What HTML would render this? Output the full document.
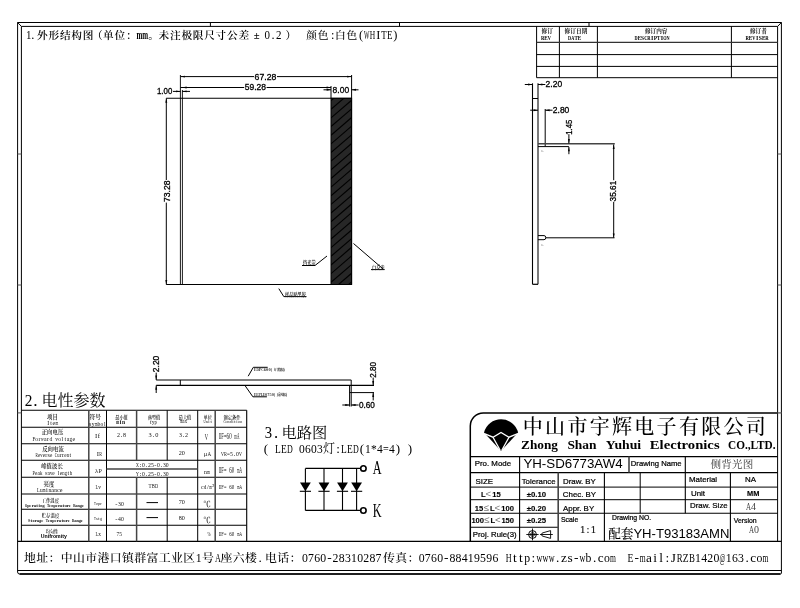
<!DOCTYPE html>
<html><head><meta charset="utf-8"><title>YH-SD6773AW4</title>
<style>html,body{margin:0;padding:0;background:#fff;}body{width:800px;height:608px;overflow:hidden;position:relative;font-family:"Liberation Sans",sans-serif;}</style></head>
<body>
<svg width="800" height="608" viewBox="0 0 800 608" style="display:block;position:absolute;left:0;top:0;will-change:transform" font-family="Liberation Sans, sans-serif"><title>YH-SD6773AW4 side backlight outline drawing</title>
<path d="M17.6,572.0 L17.6,22.5 L781.4,22.5 L781.4,573.0 Q781.4,574.0 780.4,574.0 L19.6,574.0 Q17.6,574.0 17.6,572.0 Z" fill="none" stroke="#000" stroke-width="1"/>
<line x1="19.6" y1="574" x2="780.4" y2="574" stroke="#000" stroke-width="1.5"/>
<line x1="21.4" y1="26.4" x2="777.6" y2="26.4" stroke="#000" stroke-width="1"/>
<line x1="21.4" y1="26.4" x2="21.4" y2="541.4" stroke="#000" stroke-width="1"/>
<line x1="777.6" y1="26.4" x2="777.6" y2="541.4" stroke="#000" stroke-width="1"/>
<line x1="17.6" y1="541.4" x2="781.4" y2="541.4" stroke="#000" stroke-width="1.2"/>
<line x1="17.6" y1="570.5" x2="781.4" y2="570.5" stroke="#000" stroke-width="1"/>
<line x1="17.6" y1="22.5" x2="21.4" y2="26.4" stroke="#000" stroke-width="1"/>
<line x1="781.4" y1="22.5" x2="777.6" y2="26.4" stroke="#000" stroke-width="1"/>
<line x1="210.4" y1="22.5" x2="210.4" y2="26.4" stroke="#000" stroke-width="1"/>
<line x1="399.5" y1="22.5" x2="399.5" y2="26.4" stroke="#000" stroke-width="1"/>
<line x1="589" y1="22.5" x2="589" y2="26.4" stroke="#000" stroke-width="1"/>
<line x1="17.6" y1="154" x2="21.4" y2="154" stroke="#555" stroke-width="1"/>
<line x1="777.6" y1="154" x2="781.4" y2="154" stroke="#555" stroke-width="1"/>
<line x1="17.6" y1="285" x2="21.4" y2="285" stroke="#555" stroke-width="1"/>
<line x1="777.6" y1="285" x2="781.4" y2="285" stroke="#555" stroke-width="1"/>
<line x1="17.6" y1="412.9" x2="21.4" y2="412.9" stroke="#555" stroke-width="1"/>
<line x1="777.6" y1="412.9" x2="781.4" y2="412.9" stroke="#555" stroke-width="1"/>
<g font-family="Liberation Serif" font-size="12.43" fill="#000"><text transform="translate(26.11,38.6) scale(0.881,1)">1</text></g>
<g font-family="Liberation Serif" font-size="12.43" fill="#000"><text x="31.3" y="38.6">.</text></g>
<text x="37.1 48.5 59.9 71.3 82.7 92 103 114.4 126.1" y="38.6" font-family="Liberation Serif, Noto Serif CJK SC, serif" font-weight="600" font-size="10.7" fill="#000">外形结构图（单位：</text>
<g font-family="Liberation Serif" font-size="12.43" fill="#000" font-weight="bold"><text transform="translate(136.51,38.6) scale(0.566,1)">m</text><text transform="translate(142.21,38.6) scale(0.566,1)">m</text></g>
<text x="148.3 158.6 170 181.4 192.8 204.2 215.6 227 238.4" y="38.6" font-family="Liberation Serif, Noto Serif CJK SC, serif" font-weight="600" font-size="10.7" fill="#000">。未注极限尺寸公差</text>
<text x="253.8" y="38.6" font-family="Liberation Serif, Noto Serif CJK SC, serif" font-weight="600" font-size="10.7" fill="#000">±</text>
<g font-family="Liberation Serif" font-size="12.43" fill="#000"><text transform="translate(264.51,38.6) scale(0.881,1)">0</text><text x="271.4" y="38.6">.</text><text transform="translate(275.91,38.6) scale(0.881,1)">2</text></g>
<text x="285.5" y="38.6" font-family="Liberation Serif, Noto Serif CJK SC, serif" font-weight="600" font-size="10.7" fill="#000">）</text>
<text x="306.3 317.7" y="38.6" font-family="Liberation Serif, Noto Serif CJK SC, serif" font-weight="500" font-size="10.7" fill="#000">颜色</text>
<g font-family="Liberation Serif" font-size="12.43" fill="#000"><text x="331.12" y="38.6">:</text></g>
<text x="335.1 346.5" y="38.6" font-family="Liberation Serif, Noto Serif CJK SC, serif" font-weight="500" font-size="10.7" fill="#000">白色</text>
<g font-family="Liberation Serif" font-size="12.43" fill="#000"><text x="359.08" y="38.6">(</text><text transform="translate(364.11,38.6) scale(0.467,1)">W</text><text transform="translate(369.81,38.6) scale(0.610,1)">H</text><text x="376.18" y="38.6">I</text><text transform="translate(381.21,38.6) scale(0.721,1)">T</text><text transform="translate(386.91,38.6) scale(0.721,1)">E</text><text x="393.28" y="38.6">)</text></g>
<line x1="536.6" y1="26.4" x2="536.6" y2="77.7" stroke="#000" stroke-width="1"/>
<line x1="559.4" y1="26.4" x2="559.4" y2="77.7" stroke="#000" stroke-width="1"/>
<line x1="597.4" y1="26.4" x2="597.4" y2="77.7" stroke="#000" stroke-width="1"/>
<line x1="731.4" y1="26.4" x2="731.4" y2="77.7" stroke="#000" stroke-width="1"/>
<line x1="536.6" y1="42.4" x2="777.6" y2="42.4" stroke="#333" stroke-width="1.4"/>
<line x1="536.6" y1="54.6" x2="777.6" y2="54.6" stroke="#000" stroke-width="1"/>
<line x1="536.6" y1="66.4" x2="777.6" y2="66.4" stroke="#000" stroke-width="1"/>
<line x1="536.6" y1="77.7" x2="777.6" y2="77.7" stroke="#000" stroke-width="1"/>
<text x="541.6 547.2" y="32.9" font-family="Liberation Serif, Noto Serif CJK SC, serif" font-weight="bold" font-size="5.6" fill="#111">修订</text>
<g font-family="Liberation Serif" font-size="6.1" fill="#000" font-weight="bold"><text transform="translate(541.07,39.9) scale(0.778,1)">R</text><text transform="translate(544.37,39.9) scale(0.850,1)">E</text><text transform="translate(547.67,39.9) scale(0.719,1)">V</text></g>
<text x="564.6 570.35 576.1 581.85" y="32.9" font-family="Liberation Serif, Noto Serif CJK SC, serif" font-weight="bold" font-size="5.6" fill="#111">修订日期</text>
<g font-family="Liberation Serif" font-size="6.1" fill="#000" font-weight="bold"><text transform="translate(568.06,39.9) scale(0.697,1)">D</text><text transform="translate(571.26,39.9) scale(0.697,1)">A</text><text transform="translate(574.46,39.9) scale(0.824,1)">T</text><text transform="translate(577.66,39.9) scale(0.824,1)">E</text></g>
<text x="645 650.6 656.2 661.8" y="32.9" font-family="Liberation Serif, Noto Serif CJK SC, serif" font-weight="bold" font-size="5.6" fill="#111">修订内容</text>
<g font-family="Liberation Serif" font-size="6.1" fill="#000" font-weight="bold"><text transform="translate(634.56,39.9) scale(0.697,1)">D</text><text transform="translate(637.76,39.9) scale(0.824,1)">E</text><text transform="translate(640.96,39.9) scale(0.905,1)">S</text><text transform="translate(644.16,39.9) scale(0.755,1)">C</text><text transform="translate(647.36,39.9) scale(0.755,1)">R</text><text x="651.08" y="39.9">I</text><text transform="translate(653.76,39.9) scale(0.905,1)">P</text><text transform="translate(656.96,39.9) scale(0.824,1)">T</text><text x="660.68" y="39.9">I</text><text transform="translate(663.36,39.9) scale(0.697,1)">O</text><text transform="translate(666.56,39.9) scale(0.697,1)">N</text></g>
<text x="750 755.6 761.2" y="32.9" font-family="Liberation Serif, Noto Serif CJK SC, serif" font-weight="bold" font-size="5.6" fill="#111">修订者</text>
<g font-family="Liberation Serif" font-size="6.1" fill="#000" font-weight="bold"><text transform="translate(745.57,39.9) scale(0.778,1)">R</text><text transform="translate(748.87,39.9) scale(0.850,1)">E</text><text transform="translate(752.17,39.9) scale(0.719,1)">V</text><text x="756.03" y="39.9">I</text><text transform="translate(758.77,39.9) scale(0.933,1)">S</text><text transform="translate(762.07,39.9) scale(0.850,1)">E</text><text transform="translate(765.37,39.9) scale(0.778,1)">R</text></g>
<defs><clipPath id="hc"><rect x="331" y="98.3" width="20.6" height="186.2"/></clipPath></defs>
<rect x="331" y="98.3" width="20.6" height="186.2" fill="#272727" stroke="none" stroke-width="1"/>
<g clip-path="url(#hc)" stroke="#000" stroke-width="1.1"><line x1="331.0" y1="92" x2="351.6" y2="74.28"/><line x1="331.0" y1="100.65" x2="351.6" y2="82.93"/><line x1="331.0" y1="109.3" x2="351.6" y2="91.58"/><line x1="331.0" y1="117.95" x2="351.6" y2="100.23"/><line x1="331.0" y1="126.6" x2="351.6" y2="108.88"/><line x1="331.0" y1="135.25" x2="351.6" y2="117.53"/><line x1="331.0" y1="143.9" x2="351.6" y2="126.18"/><line x1="331.0" y1="152.55" x2="351.6" y2="134.83"/><line x1="331.0" y1="161.2" x2="351.6" y2="143.48"/><line x1="331.0" y1="169.85" x2="351.6" y2="152.13"/><line x1="331.0" y1="178.5" x2="351.6" y2="160.78"/><line x1="331.0" y1="187.15" x2="351.6" y2="169.43"/><line x1="331.0" y1="195.8" x2="351.6" y2="178.08"/><line x1="331.0" y1="204.45" x2="351.6" y2="186.73"/><line x1="331.0" y1="213.1" x2="351.6" y2="195.38"/><line x1="331.0" y1="221.75" x2="351.6" y2="204.03"/><line x1="331.0" y1="230.4" x2="351.6" y2="212.68"/><line x1="331.0" y1="239.05" x2="351.6" y2="221.33"/><line x1="331.0" y1="247.7" x2="351.6" y2="229.98"/><line x1="331.0" y1="256.35" x2="351.6" y2="238.63"/><line x1="331.0" y1="265" x2="351.6" y2="247.28"/><line x1="331.0" y1="273.65" x2="351.6" y2="255.93"/><line x1="331.0" y1="282.3" x2="351.6" y2="264.58"/><line x1="331.0" y1="290.95" x2="351.6" y2="273.23"/><line x1="331.0" y1="299.6" x2="351.6" y2="281.88"/><line x1="331.0" y1="308.25" x2="351.6" y2="290.53"/></g>
<rect x="331" y="98.3" width="20.6" height="186.2" fill="none" stroke="#000" stroke-width="1"/>
<line x1="166.2" y1="98.3" x2="351.6" y2="98.3" stroke="#000" stroke-width="1.1"/>
<line x1="166.2" y1="284.5" x2="351.6" y2="284.5" stroke="#000" stroke-width="1.1"/>
<line x1="180.4" y1="75" x2="180.4" y2="284.5" stroke="#000" stroke-width="0.9"/>
<line x1="182.4" y1="90" x2="182.4" y2="284.5" stroke="#000" stroke-width="0.9"/>
<line x1="351.6" y1="75" x2="351.6" y2="284.5" stroke="#000" stroke-width="1"/>
<line x1="331" y1="86" x2="331" y2="98.3" stroke="#000" stroke-width="1"/>
<line x1="180.5" y1="76.6" x2="254" y2="76.6" stroke="#000" stroke-width="1"/>
<line x1="277" y1="76.6" x2="351.6" y2="76.6" stroke="#000" stroke-width="1"/>
<polygon points="180.5,76.6 184.9,75.65 184.9,77.55" fill="#000"/>
<polygon points="351.6,76.6 347.2,77.55 347.2,75.65" fill="#000"/>
<text x="0" y="0" transform="translate(254.6,79.7) scale(1.0400,1)" font-family="Liberation Sans" font-size="8.35" fill="#000" stroke="#000" stroke-width="0.3" xml:space="preserve">67.28</text>
<line x1="180.5" y1="87.5" x2="244.2" y2="87.5" stroke="#000" stroke-width="1"/>
<line x1="266.6" y1="87.5" x2="331" y2="87.5" stroke="#000" stroke-width="1"/>
<polygon points="182.2,87.5 186.6,86.55 186.6,88.45" fill="#000"/>
<polygon points="331,87.5 326.6,88.45 326.6,86.55" fill="#000"/>
<text x="0" y="0" transform="translate(244.7,89.9) scale(1.0200,1)" font-family="Liberation Sans" font-size="8.35" fill="#000" stroke="#000" stroke-width="0.3" xml:space="preserve">59.28</text>
<line x1="173" y1="91.4" x2="180.5" y2="91.4" stroke="#000" stroke-width="1"/>
<polygon points="180.5,91.4 176.1,92.35 176.1,90.45" fill="#000"/>
<line x1="182.2" y1="91.4" x2="190" y2="91.4" stroke="#000" stroke-width="1"/>
<polygon points="182.2,91.4 186.6,90.45 186.6,92.35" fill="#000"/>
<text x="0" y="0" transform="translate(157,94.2) scale(0.9400,1)" font-family="Liberation Sans" font-size="8.35" fill="#000" stroke="#000" stroke-width="0.3" xml:space="preserve">1.00</text>
<line x1="323.5" y1="89.8" x2="331" y2="89.8" stroke="#000" stroke-width="1"/>
<polygon points="331,89.8 326.6,90.75 326.6,88.85" fill="#000"/>
<line x1="351.6" y1="89.8" x2="358.5" y2="89.8" stroke="#000" stroke-width="1"/>
<polygon points="351.6,89.8 356,88.85 356,90.75" fill="#000"/>
<text x="0" y="0" transform="translate(332.6,92.7) scale(1.0200,1)" font-family="Liberation Sans" font-size="8.35" fill="#000" stroke="#000" stroke-width="0.3" xml:space="preserve">8.00</text>
<line x1="166.3" y1="98.3" x2="166.3" y2="180" stroke="#000" stroke-width="1"/>
<line x1="166.3" y1="202.6" x2="166.3" y2="284.5" stroke="#000" stroke-width="1"/>
<polygon points="166.3,98.3 167.25,102.7 165.35,102.7" fill="#000"/>
<polygon points="166.3,284.5 165.35,280.1 167.25,280.1" fill="#000"/>
<text x="0" y="0" transform="translate(170,202) rotate(-90) scale(1.0300,1)" font-family="Liberation Sans" font-size="8.35" fill="#000" stroke="#000" stroke-width="0.3" xml:space="preserve">73.28</text>
<polyline points="327,256 315,265.5 302,265.5" fill="none" stroke="#000" stroke-width="1"/>
<text x="303 307.2 311.4" y="264.2" font-family="Liberation Serif, Noto Serif CJK SC, serif" font-weight="bold" font-size="4.2" fill="#222">挡光带</text>
<polyline points="353.5,243.5 383.5,269.3" fill="none" stroke="#000" stroke-width="1"/>
<line x1="371" y1="269.6" x2="384.5" y2="269.6" stroke="#000" stroke-width="1"/>
<text x="372 376.2 380.4" y="268.6" font-family="Liberation Serif, Noto Serif CJK SC, serif" font-weight="bold" font-size="4.2" fill="#222">白反光</text>
<polyline points="278.8,288.6 283.8,296.6 306.5,296.6" fill="none" stroke="#000" stroke-width="1"/>
<text x="285 289.2 293.4 297.6 301.8" y="295.8" font-family="Liberation Serif, Noto Serif CJK SC, serif" font-weight="bold" font-size="4.2" fill="#222">样品贴黑胶</text>
<line x1="532.5" y1="83.3" x2="532.5" y2="284.3" stroke="#000" stroke-width="1.1"/>
<line x1="538" y1="83.3" x2="538" y2="284.3" stroke="#333" stroke-width="1.3"/>
<line x1="532.5" y1="98.5" x2="538" y2="98.5" stroke="#000" stroke-width="1"/>
<line x1="532.5" y1="284.3" x2="538" y2="284.3" stroke="#000" stroke-width="1.2"/>
<line x1="524.8" y1="84.5" x2="532.5" y2="84.5" stroke="#000" stroke-width="1"/>
<polygon points="532.5,84.5 528.1,85.45 528.1,83.55" fill="#000"/>
<line x1="538" y1="84.5" x2="545.3" y2="84.5" stroke="#000" stroke-width="1"/>
<polygon points="538,84.5 542.4,83.55 542.4,85.45" fill="#000"/>
<text x="0" y="0" transform="translate(545.6,87.3) scale(1.0200,1)" font-family="Liberation Sans" font-size="8.35" fill="#000" stroke="#000" stroke-width="0.3" xml:space="preserve">2.20</text>
<line x1="530.2" y1="110.2" x2="538" y2="110.2" stroke="#000" stroke-width="1"/>
<polygon points="538,110.2 533.6,111.15 533.6,109.25" fill="#000"/>
<line x1="545.2" y1="109" x2="545.2" y2="146.4" stroke="#000" stroke-width="1"/>
<line x1="545.2" y1="110.2" x2="552.5" y2="110.2" stroke="#000" stroke-width="1"/>
<polygon points="545.2,110.2 549.6,109.25 549.6,111.15" fill="#000"/>
<text x="0" y="0" transform="translate(552.8,113) scale(1.0200,1)" font-family="Liberation Sans" font-size="8.35" fill="#000" stroke="#000" stroke-width="0.3" xml:space="preserve">2.80</text>
<line x1="538" y1="143.8" x2="614.8" y2="143.8" stroke="#444" stroke-width="1.5"/>
<line x1="538" y1="146.6" x2="568.9" y2="146.6" stroke="#000" stroke-width="1"/>
<line x1="568.9" y1="134.2" x2="568.9" y2="143.4" stroke="#000" stroke-width="1"/>
<polygon points="568.9,143.4 567.95,139 569.85,139" fill="#000"/>
<line x1="568.9" y1="154.2" x2="568.9" y2="146.9" stroke="#000" stroke-width="1"/>
<polygon points="568.9,146.9 569.85,151.3 567.95,151.3" fill="#000"/>
<text x="0" y="0" transform="translate(571.7,134.8) rotate(-90) scale(0.9300,1)" font-family="Liberation Sans" font-size="8.35" fill="#000" stroke="#000" stroke-width="0.3" xml:space="preserve">1.45</text>
<line x1="613.7" y1="144.5" x2="613.7" y2="180.2" stroke="#000" stroke-width="1"/>
<line x1="613.7" y1="201.8" x2="613.7" y2="237.8" stroke="#000" stroke-width="1"/>
<polygon points="613.7,144.5 614.65,148.9 612.75,148.9" fill="#000"/>
<polygon points="613.7,237.8 612.75,233.4 614.65,233.4" fill="#000"/>
<text x="0" y="0" transform="translate(616.1,201.4) rotate(-90) scale(0.9900,1)" font-family="Liberation Sans" font-size="8.35" fill="#000" stroke="#000" stroke-width="0.3" xml:space="preserve">35.61</text>
<path d="M538,235.6 L544,235.6 Q545.8,235.6 545.8,237.6 Q545.8,239.7 544,239.7 L538,239.7" fill="none" stroke="#000" stroke-width="1"/>
<line x1="545.6" y1="237.8" x2="614.5" y2="237.8" stroke="#000" stroke-width="1"/>
<text x="541" y="152" font-family="Liberation Sans" font-size="3.2" fill="#888" xml:space="preserve">x-</text>
<text x="541" y="245.5" font-family="Liberation Sans" font-size="3.2" fill="#888" xml:space="preserve">x-</text>
<line x1="156.2" y1="380" x2="351.2" y2="380" stroke="#555" stroke-width="1.5"/>
<line x1="156.2" y1="385.4" x2="374" y2="385.4" stroke="#000" stroke-width="1.1"/>
<line x1="180.3" y1="380" x2="180.3" y2="385.4" stroke="#000" stroke-width="1"/>
<line x1="156.2" y1="372.7" x2="156.2" y2="380" stroke="#000" stroke-width="1"/>
<polygon points="156.2,380 155.25,375.6 157.15,375.6" fill="#000"/>
<line x1="156.2" y1="393" x2="156.2" y2="385.4" stroke="#000" stroke-width="1"/>
<polygon points="156.2,385.4 157.15,389.8 155.25,389.8" fill="#000"/>
<text x="0" y="0" transform="translate(159.3,372.2) rotate(-90) scale(1.0200,1)" font-family="Liberation Sans" font-size="8.35" fill="#000" stroke="#000" stroke-width="0.3" xml:space="preserve">2.20</text>
<line x1="349.6" y1="385.4" x2="349.6" y2="406.5" stroke="#000" stroke-width="1"/>
<line x1="351.2" y1="380" x2="351.2" y2="406.5" stroke="#000" stroke-width="1"/>
<line x1="349.6" y1="392.6" x2="374" y2="392.6" stroke="#000" stroke-width="1"/>
<line x1="373.2" y1="377.6" x2="373.2" y2="385.4" stroke="#000" stroke-width="1"/>
<polygon points="373.2,385.4 372.25,381 374.15,381" fill="#000"/>
<line x1="373.2" y1="400.4" x2="373.2" y2="392.6" stroke="#000" stroke-width="1"/>
<polygon points="373.2,392.6 374.15,397 372.25,397" fill="#000"/>
<text x="0" y="0" transform="translate(376.2,377.8) rotate(-90) scale(0.9700,1)" font-family="Liberation Sans" font-size="8.35" fill="#000" stroke="#000" stroke-width="0.3" xml:space="preserve">2.80</text>
<line x1="342.3" y1="405" x2="349.6" y2="405" stroke="#000" stroke-width="1"/>
<polygon points="349.6,405 345.2,405.95 345.2,404.05" fill="#000"/>
<line x1="351.2" y1="405" x2="358.6" y2="405" stroke="#000" stroke-width="1"/>
<polygon points="351.2,405 355.6,404.05 355.6,405.95" fill="#000"/>
<text x="0" y="0" transform="translate(358.9,407.9) scale(0.9800,1)" font-family="Liberation Sans" font-size="8.35" fill="#000" stroke="#000" stroke-width="0.3" xml:space="preserve">0.60</text>
<polyline points="248.2,376.2 253.3,367.3 267.7,367.3" fill="none" stroke="#000" stroke-width="1"/>
<g font-family="Liberation Serif" font-size="4.36" fill="#333" font-weight="bold"><text transform="translate(254.05,371.3) scale(0.865,1)">E</text><text transform="translate(256.45,371.3) scale(0.732,1)">D</text><text transform="translate(258.85,371.3) scale(0.950,1)">P</text><text transform="translate(261.25,371.3) scale(0.792,1)">C</text><text x="263.71" y="371.3">6</text><text x="266.11" y="371.3">0</text><text x="268.51" y="371.3">0</text></g>
<text x="270.8 274 277.2 280.4 283.6" y="371.3" font-family="Liberation Serif, Noto Serif CJK SC, serif" font-weight="bold" font-size="3.8" fill="#333">(扩散膜)</text>
<polyline points="245.3,386 252.9,396.8 266.9,396.8" fill="none" stroke="#000" stroke-width="1"/>
<g font-family="Liberation Serif" font-size="4.36" fill="#333" font-weight="bold"><text transform="translate(254.04,396.2) scale(0.793,1)">E</text><text transform="translate(256.24,396.2) scale(0.793,1)">E</text><text transform="translate(258.44,396.2) scale(0.871,1)">P</text><text transform="translate(260.64,396.2) scale(0.793,1)">L</text><text transform="translate(262.84,396.2) scale(0.793,1)">E</text><text transform="translate(265.04,396.2) scale(0.969,1)">0</text><text transform="translate(267.24,396.2) scale(0.969,1)">7</text><text transform="translate(269.44,396.2) scale(0.969,1)">5</text><text transform="translate(271.64,396.2) scale(0.969,1)">0</text></g>
<text x="273.8 276.8 279.8 282.8 285.8" y="396.2" font-family="Liberation Serif, Noto Serif CJK SC, serif" font-weight="bold" font-size="3.8" fill="#333">(反光膜)</text>
<g font-family="Liberation Serif" font-size="17.44" fill="#000"><text transform="translate(24.76,406.2) scale(0.881,1)">2</text></g>
<g font-family="Liberation Serif" font-size="17.44" fill="#000"><text x="33.22" y="406.2">.</text></g>
<text x="41.4 57.4 73.4 89.4" y="406.4" font-family="Liberation Serif, Noto Serif CJK SC, serif" font-size="16" fill="#000">电性参数</text>
<line x1="21.4" y1="410.3" x2="246.7" y2="410.3" stroke="#000" stroke-width="1.1"/>
<line x1="21.4" y1="427.3" x2="246.7" y2="427.3" stroke="#000" stroke-width="1.1"/>
<line x1="21.4" y1="443.7" x2="246.7" y2="443.7" stroke="#000" stroke-width="1.1"/>
<line x1="21.4" y1="460.2" x2="246.7" y2="460.2" stroke="#000" stroke-width="1.1"/>
<line x1="21.4" y1="477.2" x2="246.7" y2="477.2" stroke="#000" stroke-width="1.1"/>
<line x1="21.4" y1="494" x2="246.7" y2="494" stroke="#000" stroke-width="1.1"/>
<line x1="21.4" y1="509.3" x2="246.7" y2="509.3" stroke="#000" stroke-width="1.1"/>
<line x1="21.4" y1="525.2" x2="246.7" y2="525.2" stroke="#000" stroke-width="1.1"/>
<line x1="246.7" y1="410.3" x2="246.7" y2="541.4" stroke="#000" stroke-width="1.1"/>
<line x1="88.8" y1="410.3" x2="88.8" y2="541.4" stroke="#444" stroke-width="1.5"/>
<line x1="106.5" y1="410.3" x2="106.5" y2="541.4" stroke="#000" stroke-width="1"/>
<line x1="215.2" y1="410.3" x2="215.2" y2="541.4" stroke="#444" stroke-width="1.5"/>
<line x1="197.7" y1="410.3" x2="197.7" y2="541.4" stroke="#000" stroke-width="1"/>
<line x1="136.6" y1="410.3" x2="136.6" y2="460.2" stroke="#444" stroke-width="1.5"/>
<line x1="136.6" y1="477.2" x2="136.6" y2="541.4" stroke="#444" stroke-width="1.5"/>
<line x1="167.2" y1="410.3" x2="167.2" y2="460.2" stroke="#000" stroke-width="1"/>
<line x1="167.2" y1="477.2" x2="167.2" y2="541.4" stroke="#000" stroke-width="1"/>
<line x1="106.5" y1="469" x2="197.7" y2="469" stroke="#444" stroke-width="1.5"/>
<text x="47.1 52.5" y="418.8" font-family="Liberation Serif, Noto Serif CJK SC, serif" font-weight="600" font-size="5.4" fill="#111">项目</text>
<g font-family="Liberation Serif" font-size="5.89" fill="#111"><text x="47.24" y="424.8">I</text><text x="50.26" y="424.8">t</text><text x="52.62" y="424.8">e</text><text transform="translate(55.41,424.8) scale(0.598,1)">m</text></g>
<text x="89.5 95.3" y="419.4" font-family="Liberation Serif, Noto Serif CJK SC, serif" font-weight="600" font-size="5.8" fill="#111">符号</text>
<g font-family="Liberation Serif" font-size="5.89" fill="#111"><text x="89.1" y="425.6">s</text><text transform="translate(91.76,425.6) scale(0.946,1)">y</text><text transform="translate(94.66,425.6) scale(0.608,1)">m</text><text transform="translate(97.56,425.6) scale(0.946,1)">b</text><text transform="translate(100.46,425.6) scale(0.946,1)">o</text><text x="103.93" y="425.6">l</text></g>
<text x="115.2 119.4 123.6" y="419" font-family="Liberation Serif, Noto Serif CJK SC, serif" font-weight="600" font-size="4.2" fill="#111">最小值</text>
<g font-family="Liberation Serif" font-size="5.89" fill="#111" font-weight="bold"><text transform="translate(116.21,424) scale(0.608,1)">m</text><text x="119.68" y="424">i</text><text transform="translate(122.01,424) scale(0.946,1)">n</text></g>
<text x="147.7 151.9 156.1" y="419" font-family="Liberation Serif, Noto Serif CJK SC, serif" font-weight="600" font-size="4.2" fill="#111">典型值</text>
<g font-family="Liberation Serif" font-size="5.89" fill="#111"><text x="149.98" y="423.6">t</text><text transform="translate(152.1,423.6) scale(0.815,1)">y</text><text transform="translate(154.6,423.6) scale(0.815,1)">p</text></g>
<text x="178.7 182.9 187.1" y="419" font-family="Liberation Serif, Noto Serif CJK SC, serif" font-weight="600" font-size="4.2" fill="#111">最大值</text>
<g font-family="Liberation Serif" font-size="5.89" fill="#111"><text transform="translate(179.95,423.4) scale(0.503,1)">m</text><text transform="translate(182.35,423.4) scale(0.882,1)">a</text><text transform="translate(184.75,423.4) scale(0.783,1)">x</text></g>
<text x="203.6 207.8" y="418.6" font-family="Liberation Serif, Noto Serif CJK SC, serif" font-weight="600" font-size="4.2" fill="#111">单位</text>
<g font-family="Liberation Serif" font-size="4.8" fill="#111"><text transform="translate(203.44,422.8) scale(0.610,1)">U</text><text transform="translate(205.64,422.8) scale(0.881,1)">n</text><text x="208.23" y="422.8">i</text><text x="210.43" y="422.8">t</text></g>
<text x="223.6 227.8 232 236.2" y="418.6" font-family="Liberation Serif, Noto Serif CJK SC, serif" font-weight="600" font-size="4.2" fill="#111">测定条件</text>
<g font-family="Liberation Serif" font-size="4.8" fill="#111"><text transform="translate(223.39,422.8) scale(0.630,1)">C</text><text transform="translate(225.49,422.8) scale(0.841,1)">o</text><text transform="translate(227.59,422.8) scale(0.841,1)">n</text><text transform="translate(229.69,422.8) scale(0.841,1)">d</text><text x="232.13" y="422.8">i</text><text x="234.23" y="422.8">t</text><text x="236.33" y="422.8">i</text><text transform="translate(238.09,422.8) scale(0.841,1)">o</text><text transform="translate(240.19,422.8) scale(0.841,1)">n</text></g>
<text x="41.7 47.1 52.5 57.9" y="434.2" font-family="Liberation Serif, Noto Serif CJK SC, serif" font-weight="600" font-size="5.4" fill="#111">正向电压</text>
<g font-family="Liberation Serif" font-size="5.89" fill="#111"><text transform="translate(32.48,441) scale(0.836,1)">F</text><text transform="translate(35.33,441) scale(0.930,1)">o</text><text x="38.57" y="441">r</text><text transform="translate(41.03,441) scale(0.644,1)">w</text><text x="43.94" y="441">a</text><text x="47.12" y="441">r</text><text transform="translate(49.58,441) scale(0.930,1)">d</text><text transform="translate(55.28,441) scale(0.930,1)">v</text><text transform="translate(58.13,441) scale(0.930,1)">o</text><text x="61.53" y="441">l</text><text x="64.38" y="441">t</text><text x="66.74" y="441">a</text><text transform="translate(69.53,441) scale(0.930,1)">g</text><text x="72.44" y="441">e</text></g>
<g font-family="Liberation Serif" font-size="6.76" fill="#111"><text x="94.97" y="438.4">I</text><text x="97.77" y="438.4">f</text></g>
<g font-family="Liberation Serif" font-size="6.76" fill="#111"><text transform="translate(116.91,437) scale(0.881,1)">2</text><text x="120.66" y="437">.</text><text transform="translate(123.11,437) scale(0.881,1)">8</text></g>
<g font-family="Liberation Serif" font-size="6.76" fill="#111"><text transform="translate(148.62,437.3) scale(0.938,1)">3</text><text x="152.66" y="437.3">.</text><text transform="translate(155.22,437.3) scale(0.938,1)">0</text></g>
<g font-family="Liberation Serif" font-size="6.76" fill="#111"><text transform="translate(178.91,437.3) scale(0.881,1)">3</text><text x="182.66" y="437.3">.</text><text transform="translate(185.11,437.3) scale(0.881,1)">2</text></g>
<g font-family="Liberation Serif" font-size="7.19" fill="#111"><text transform="translate(204.67,439.8) scale(0.628,1)">V</text></g>
<g font-family="Liberation Serif" font-size="7.19" fill="#111"><text x="218.8" y="438.9">I</text><text transform="translate(221.35,438.9) scale(0.624,1)">F</text><text transform="translate(223.95,438.9) scale(0.615,1)">=</text><text transform="translate(226.55,438.9) scale(0.694,1)">6</text><text transform="translate(229.15,438.9) scale(0.694,1)">0</text><text transform="translate(234.35,438.9) scale(0.446,1)">m</text><text transform="translate(236.95,438.9) scale(0.480,1)">A</text></g>
<text x="42.2 47.6 53 58.4" y="451" font-family="Liberation Serif, Noto Serif CJK SC, serif" font-weight="600" font-size="5.4" fill="#111">反向电流</text>
<g font-family="Liberation Serif" font-size="5.89" fill="#111"><text transform="translate(35.55,456.8) scale(0.587,1)">R</text><text transform="translate(37.95,456.8) scale(0.882,1)">e</text><text transform="translate(40.35,456.8) scale(0.783,1)">v</text><text transform="translate(42.75,456.8) scale(0.882,1)">e</text><text x="45.32" y="456.8">r</text><text x="47.55" y="456.8">s</text><text transform="translate(49.95,456.8) scale(0.882,1)">e</text><text transform="translate(54.75,456.8) scale(0.587,1)">C</text><text transform="translate(57.15,456.8) scale(0.783,1)">u</text><text x="59.72" y="456.8">r</text><text x="62.12" y="456.8">r</text><text transform="translate(64.35,456.8) scale(0.882,1)">e</text><text transform="translate(66.75,456.8) scale(0.783,1)">n</text><text x="69.48" y="456.8">t</text></g>
<g font-family="Liberation Serif" font-size="6.76" fill="#111"><text x="96.77" y="455.8">I</text><text transform="translate(99.36,455.8) scale(0.596,1)">R</text></g>
<g font-family="Liberation Serif" font-size="6.76" fill="#111"><text transform="translate(178.66,454.8) scale(0.909,1)">2</text><text transform="translate(181.86,454.8) scale(0.909,1)">0</text></g>
<g font-family="Liberation Serif" font-size="6.32" fill="#111"><text x="203.71" y="456.4">μ</text><text transform="translate(207.38,456.4) scale(0.799,1)">A</text></g>
<g font-family="Liberation Serif" font-size="6.98" fill="#111"><text transform="translate(221.06,455.8) scale(0.572,1)">V</text><text transform="translate(224.06,455.8) scale(0.619,1)">R</text><text transform="translate(227.06,455.8) scale(0.732,1)">=</text><text transform="translate(230.06,455.8) scale(0.826,1)">5</text><text x="233.63" y="455.8">.</text><text transform="translate(236.06,455.8) scale(0.826,1)">0</text><text transform="translate(239.06,455.8) scale(0.572,1)">V</text></g>
<text x="41.2 46.6 52 57.4" y="468.4" font-family="Liberation Serif, Noto Serif CJK SC, serif" font-weight="600" font-size="5.4" fill="#111">峰值波长</text>
<g font-family="Liberation Serif" font-size="5.89" fill="#111"><text transform="translate(32.59,474.6) scale(0.724,1)">P</text><text transform="translate(35.06,474.6) scale(0.908,1)">e</text><text transform="translate(37.53,474.6) scale(0.908,1)">a</text><text transform="translate(40,474.6) scale(0.806,1)">k</text><text transform="translate(44.94,474.6) scale(0.558,1)">w</text><text transform="translate(47.41,474.6) scale(0.908,1)">a</text><text transform="translate(49.88,474.6) scale(0.806,1)">v</text><text transform="translate(52.35,474.6) scale(0.908,1)">e</text><text x="57.66" y="474.6">l</text><text transform="translate(59.76,474.6) scale(0.908,1)">e</text><text transform="translate(62.23,474.6) scale(0.806,1)">n</text><text transform="translate(64.7,474.6) scale(0.806,1)">g</text><text x="67.54" y="474.6">t</text><text transform="translate(69.64,474.6) scale(0.806,1)">h</text></g>
<g font-family="Liberation Serif" font-size="6.76" fill="#111"><text x="95.11" y="472.6">λ</text><text transform="translate(98.57,472.6) scale(0.894,1)">P</text></g>
<g font-family="Liberation Serif" font-size="6.54" fill="#111"><text transform="translate(136.07,467.3) scale(0.606,1)">X</text><text x="139.57" y="467.3">:</text><text transform="translate(142.03,467.3) scale(0.875,1)">0</text><text x="145.62" y="467.3">.</text><text transform="translate(147.99,467.3) scale(0.875,1)">2</text><text transform="translate(150.97,467.3) scale(0.875,1)">5</text><text x="154.29" y="467.3">-</text><text transform="translate(156.93,467.3) scale(0.875,1)">0</text><text x="160.52" y="467.3">.</text><text transform="translate(162.89,467.3) scale(0.875,1)">3</text><text transform="translate(165.87,467.3) scale(0.875,1)">0</text></g>
<g font-family="Liberation Serif" font-size="6.54" fill="#111"><text transform="translate(136.07,475.8) scale(0.606,1)">Y</text><text x="139.57" y="475.8">:</text><text transform="translate(142.03,475.8) scale(0.875,1)">0</text><text x="145.62" y="475.8">.</text><text transform="translate(147.99,475.8) scale(0.875,1)">2</text><text transform="translate(150.97,475.8) scale(0.875,1)">5</text><text x="154.29" y="475.8">-</text><text transform="translate(156.93,475.8) scale(0.875,1)">0</text><text x="160.52" y="475.8">.</text><text transform="translate(162.89,475.8) scale(0.875,1)">3</text><text transform="translate(165.87,475.8) scale(0.875,1)">0</text></g>
<g font-family="Liberation Serif" font-size="6.1" fill="#111"><text transform="translate(204.06,473.6) scale(0.944,1)">n</text><text transform="translate(207.06,473.6) scale(0.607,1)">m</text></g>
<g font-family="Liberation Serif" font-size="7.52" fill="#111"><text transform="translate(218.75,472.6) scale(0.997,1)">I</text><text transform="translate(221.35,472.6) scale(0.597,1)">F</text><text transform="translate(223.95,472.6) scale(0.588,1)">=</text><text transform="translate(229.15,472.6) scale(0.664,1)">6</text><text transform="translate(231.75,472.6) scale(0.664,1)">0</text><text transform="translate(236.95,472.6) scale(0.427,1)">m</text><text transform="translate(239.55,472.6) scale(0.460,1)">A</text></g>
<text x="43.6 49" y="485.6" font-family="Liberation Serif, Noto Serif CJK SC, serif" font-weight="600" font-size="5.4" fill="#111">亮度</text>
<g font-family="Liberation Serif" font-size="6.54" fill="#111"><text transform="translate(37.03,491.8) scale(0.685,1)">L</text><text transform="translate(39.88,491.8) scale(0.837,1)">u</text><text transform="translate(42.73,491.8) scale(0.538,1)">m</text><text x="46.04" y="491.8">i</text><text transform="translate(48.43,491.8) scale(0.837,1)">n</text><text transform="translate(51.28,491.8) scale(0.943,1)">a</text><text transform="translate(54.13,491.8) scale(0.837,1)">n</text><text transform="translate(56.98,491.8) scale(0.943,1)">c</text><text transform="translate(59.83,491.8) scale(0.943,1)">e</text></g>
<g font-family="Liberation Serif" font-size="6.76" fill="#111"><text transform="translate(95.56,488.8) scale(0.651,1)">L</text><text transform="translate(98.36,488.8) scale(0.796,1)">v</text></g>
<g font-family="Liberation Serif" font-size="6.1" fill="#111"><text transform="translate(148.56,488.3) scale(0.824,1)">T</text><text transform="translate(151.76,488.3) scale(0.755,1)">B</text><text transform="translate(154.96,488.3) scale(0.697,1)">D</text></g>
<g font-family="Liberation Serif" font-size="6.32" fill="#111"><text transform="translate(201.1,489) scale(0.924,1)">c</text><text transform="translate(203.8,489) scale(0.820,1)">d</text><text x="206.92" y="489">/</text><text transform="translate(209.2,489) scale(0.527,1)">m</text><text x="212.25" y="489">²</text></g>
<g font-family="Liberation Serif" font-size="7.09" fill="#111"><text x="218.82" y="489.2">I</text><text transform="translate(221.35,489.2) scale(0.633,1)">F</text><text transform="translate(223.95,489.2) scale(0.625,1)">=</text><text transform="translate(229.15,489.2) scale(0.705,1)">6</text><text transform="translate(231.75,489.2) scale(0.705,1)">0</text><text transform="translate(236.95,489.2) scale(0.453,1)">m</text><text transform="translate(239.55,489.2) scale(0.488,1)">A</text></g>
<text x="41.5 45.9 50.3 54.7" y="501.8" font-family="Liberation Serif, Noto Serif CJK SC, serif" font-weight="600" font-size="4.4" fill="#111">工作温度</text>
<g font-family="Liberation Serif" font-size="5.01" fill="#111" font-weight="bold"><text transform="translate(24.98,507.2) scale(0.581,1)">O</text><text transform="translate(27.17,507.2) scale(0.839,1)">p</text><text transform="translate(29.36,507.2) scale(0.945,1)">e</text><text x="31.77" y="507.2">r</text><text transform="translate(33.74,507.2) scale(0.945,1)">a</text><text x="36.28" y="507.2">t</text><text x="38.47" y="507.2">i</text><text transform="translate(40.31,507.2) scale(0.839,1)">n</text><text transform="translate(42.5,507.2) scale(0.839,1)">g</text><text transform="translate(46.88,507.2) scale(0.686,1)">T</text><text transform="translate(49.07,507.2) scale(0.945,1)">e</text><text transform="translate(51.26,507.2) scale(0.539,1)">m</text><text transform="translate(53.45,507.2) scale(0.839,1)">p</text><text transform="translate(55.64,507.2) scale(0.945,1)">e</text><text x="58.05" y="507.2">r</text><text transform="translate(60.02,507.2) scale(0.945,1)">a</text><text x="62.56" y="507.2">t</text><text transform="translate(64.4,507.2) scale(0.839,1)">u</text><text x="66.81" y="507.2">r</text><text transform="translate(68.78,507.2) scale(0.945,1)">e</text><text transform="translate(73.16,507.2) scale(0.629,1)">R</text><text transform="translate(75.35,507.2) scale(0.945,1)">a</text><text transform="translate(77.54,507.2) scale(0.839,1)">n</text><text transform="translate(79.73,507.2) scale(0.839,1)">g</text><text transform="translate(81.92,507.2) scale(0.945,1)">e</text></g>
<g font-family="Liberation Serif" font-size="4.58" fill="#111"><text transform="translate(94.04,504.8) scale(0.687,1)">T</text><text transform="translate(96.04,504.8) scale(0.839,1)">o</text><text transform="translate(98.04,504.8) scale(0.839,1)">p</text><text x="100.24" y="504.8">r</text></g>
<g font-family="Liberation Serif" font-size="6.76" fill="#111"><text x="115.37" y="505.8">-</text><text transform="translate(118.06,505.8) scale(0.852,1)">3</text><text transform="translate(121.06,505.8) scale(0.852,1)">0</text></g>
<line x1="146.5" y1="502.6" x2="158" y2="502.6" stroke="#000" stroke-width="1"/>
<g font-family="Liberation Serif" font-size="6.54" fill="#111"><text transform="translate(178.66,504.4) scale(0.939,1)">7</text><text transform="translate(181.86,504.4) scale(0.939,1)">0</text></g>
<text x="203.2" y="507.4" font-family="Liberation Serif, Noto Serif CJK SC, serif" font-weight="500" font-size="7.6" fill="#000">℃</text>
<text x="41.7 46.1 50.5 54.9" y="516.8" font-family="Liberation Serif, Noto Serif CJK SC, serif" font-weight="600" font-size="4.4" fill="#111">贮存温度</text>
<g font-family="Liberation Serif" font-size="5.01" fill="#111" font-weight="bold"><text transform="translate(28.04,521.8) scale(0.757,1)">S</text><text x="30.6" y="521.8">t</text><text transform="translate(32.44,521.8) scale(0.842,1)">o</text><text x="34.87" y="521.8">r</text><text transform="translate(36.84,521.8) scale(0.949,1)">a</text><text transform="translate(39.04,521.8) scale(0.842,1)">g</text><text transform="translate(41.24,521.8) scale(0.949,1)">e</text><text transform="translate(45.64,521.8) scale(0.690,1)">T</text><text transform="translate(47.84,521.8) scale(0.949,1)">e</text><text transform="translate(50.04,521.8) scale(0.542,1)">m</text><text transform="translate(52.24,521.8) scale(0.842,1)">p</text><text transform="translate(54.44,521.8) scale(0.949,1)">e</text><text x="56.87" y="521.8">r</text><text transform="translate(58.84,521.8) scale(0.949,1)">a</text><text x="61.4" y="521.8">t</text><text transform="translate(63.24,521.8) scale(0.842,1)">u</text><text x="65.67" y="521.8">r</text><text transform="translate(67.64,521.8) scale(0.949,1)">e</text><text transform="translate(72.04,521.8) scale(0.632,1)">R</text><text transform="translate(74.24,521.8) scale(0.949,1)">a</text><text transform="translate(76.44,521.8) scale(0.842,1)">n</text><text transform="translate(78.64,521.8) scale(0.842,1)">g</text><text transform="translate(80.84,521.8) scale(0.949,1)">e</text></g>
<g font-family="Liberation Serif" font-size="4.58" fill="#111"><text transform="translate(94.04,519.9) scale(0.687,1)">T</text><text x="96.11" y="519.9">s</text><text x="98.36" y="519.9">t</text><text transform="translate(100.04,519.9) scale(0.839,1)">g</text></g>
<g font-family="Liberation Serif" font-size="6.76" fill="#111"><text x="115.37" y="521.2">-</text><text transform="translate(118.06,521.2) scale(0.852,1)">4</text><text transform="translate(121.06,521.2) scale(0.852,1)">0</text></g>
<line x1="146.5" y1="517.6" x2="158" y2="517.6" stroke="#000" stroke-width="1"/>
<g font-family="Liberation Serif" font-size="6.54" fill="#111"><text transform="translate(178.66,519.8) scale(0.939,1)">8</text><text transform="translate(181.86,519.8) scale(0.939,1)">0</text></g>
<text x="203.2" y="522.8" font-family="Liberation Serif, Noto Serif CJK SC, serif" font-weight="500" font-size="7.6" fill="#000">℃</text>
<text x="45.7 49.9 54.1" y="532.8" font-family="Liberation Serif, Noto Serif CJK SC, serif" font-weight="600" font-size="4.2" fill="#111">均匀性</text>
<text x="53.8" y="538.2" font-family="Liberation Sans" font-size="5.2" fill="#000" font-weight="bold" text-anchor="middle" xml:space="preserve">Unifromity</text>
<g font-family="Liberation Serif" font-size="6.76" fill="#111"><text transform="translate(95.56,535.8) scale(0.651,1)">L</text><text transform="translate(98.36,535.8) scale(0.796,1)">x</text></g>
<g font-family="Liberation Serif" font-size="6.76" fill="#111"><text transform="translate(116.56,535.8) scale(0.796,1)">7</text><text transform="translate(119.36,535.8) scale(0.796,1)">5</text></g>
<g font-family="Liberation Serif" font-size="5.67" fill="#111"><text transform="translate(207.17,536.4) scale(0.691,1)">%</text></g>
<g font-family="Liberation Serif" font-size="7.09" fill="#111"><text x="218.82" y="536.2">I</text><text transform="translate(221.35,536.2) scale(0.633,1)">F</text><text transform="translate(223.95,536.2) scale(0.625,1)">=</text><text transform="translate(229.15,536.2) scale(0.705,1)">6</text><text transform="translate(231.75,536.2) scale(0.705,1)">0</text><text transform="translate(236.95,536.2) scale(0.453,1)">m</text><text transform="translate(239.55,536.2) scale(0.488,1)">A</text></g>
<g font-family="Liberation Serif" font-size="16.68" fill="#000"><text transform="translate(264.75,438.2) scale(0.881,1)">3</text><text x="273.99" y="438.2">.</text></g>
<text x="281.5 296.8 312.1" y="438.4" font-family="Liberation Serif, Noto Serif CJK SC, serif" font-size="15.3" fill="#000">电路图</text>
<g font-family="Liberation Serif" font-size="13.08" fill="#000"><text x="263.82" y="453.2">(</text><text transform="translate(275.12,453.2) scale(0.721,1)">L</text><text transform="translate(281.12,453.2) scale(0.721,1)">E</text><text transform="translate(287.12,453.2) scale(0.610,1)">D</text><text transform="translate(299.12,453.2) scale(0.881,1)">0</text><text transform="translate(305.12,453.2) scale(0.881,1)">6</text><text transform="translate(311.12,453.2) scale(0.881,1)">0</text><text transform="translate(317.12,453.2) scale(0.881,1)">3</text></g>
<text x="323" y="453.2" font-family="Liberation Serif, Noto Serif CJK SC, serif" font-size="12" fill="#000">灯</text>
<g font-family="Liberation Serif" font-size="13.08" fill="#000"><text x="336.18" y="453.2">:</text><text transform="translate(341.12,453.2) scale(0.721,1)">L</text><text transform="translate(347.12,453.2) scale(0.721,1)">E</text><text transform="translate(353.12,453.2) scale(0.610,1)">D</text><text x="359.82" y="453.2">(</text><text transform="translate(365.12,453.2) scale(0.881,1)">1</text><text transform="translate(371.12,453.2) scale(0.881,1)">*</text><text transform="translate(377.12,453.2) scale(0.881,1)">4</text><text transform="translate(383.12,453.2) scale(0.781,1)">=</text><text transform="translate(389.12,453.2) scale(0.881,1)">4</text><text x="395.82" y="453.2">)</text><text x="407.82" y="453.2">)</text></g>
<line x1="305.4" y1="468.4" x2="360.6" y2="468.4" stroke="#000" stroke-width="1.1"/>
<line x1="305.4" y1="510.4" x2="360.6" y2="510.4" stroke="#000" stroke-width="1.1"/>
<line x1="305.4" y1="468.4" x2="305.4" y2="510.4" stroke="#000" stroke-width="1.1"/>
<polygon points="300,482.6 310.8,482.6 305.4,491.2" fill="#000"/>
<line x1="299.8" y1="491.3" x2="311" y2="491.3" stroke="#000" stroke-width="1.1"/>
<line x1="324" y1="468.4" x2="324" y2="510.4" stroke="#000" stroke-width="1.1"/>
<polygon points="318.6,482.6 329.4,482.6 324,491.2" fill="#000"/>
<line x1="318.4" y1="491.3" x2="329.6" y2="491.3" stroke="#000" stroke-width="1.1"/>
<line x1="342.5" y1="468.4" x2="342.5" y2="510.4" stroke="#000" stroke-width="1.1"/>
<polygon points="337.1,482.6 347.9,482.6 342.5,491.2" fill="#000"/>
<line x1="336.9" y1="491.3" x2="348.1" y2="491.3" stroke="#000" stroke-width="1.1"/>
<line x1="356.6" y1="468.4" x2="356.6" y2="510.4" stroke="#000" stroke-width="1.1"/>
<polygon points="351.2,482.6 362,482.6 356.6,491.2" fill="#000"/>
<line x1="351" y1="491.3" x2="362.2" y2="491.3" stroke="#000" stroke-width="1.1"/>
<circle cx="363.4" cy="468.4" r="2.7" fill="#fff" stroke="#000" stroke-width="1.6"/>
<circle cx="363.4" cy="510.5" r="2.7" fill="#fff" stroke="#000" stroke-width="1.6"/>
<g font-family="Liberation Serif" font-size="19.08" fill="#000"><text transform="translate(372.78,474) scale(0.641,1)">A</text></g>
<g font-family="Liberation Serif" font-size="19.08" fill="#000"><text transform="translate(372.78,516.6) scale(0.641,1)">K</text></g>
<path d="M470.3,541.4 L470.3,425.9 A13.0,13.0 0 0 1 483.3,412.9 L777.6,412.9" fill="none" stroke="#000" stroke-width="1.5"/>
<line x1="777.6" y1="412.9" x2="781.4" y2="412.9" stroke="#777" stroke-width="1"/>
<line x1="470.3" y1="456.6" x2="777.6" y2="456.6" stroke="#000" stroke-width="1.1"/>
<line x1="470.3" y1="472.6" x2="777.6" y2="472.6" stroke="#000" stroke-width="1.1"/>
<line x1="470.3" y1="487.1" x2="777.6" y2="487.1" stroke="#000" stroke-width="1"/>
<line x1="470.3" y1="499.7" x2="777.6" y2="499.7" stroke="#000" stroke-width="1"/>
<line x1="470.3" y1="513.3" x2="777.6" y2="513.3" stroke="#000" stroke-width="1.1"/>
<line x1="470.3" y1="527.2" x2="558.2" y2="527.2" stroke="#000" stroke-width="1.1"/>
<line x1="519.6" y1="456.6" x2="519.6" y2="541.4" stroke="#000" stroke-width="1.1"/>
<line x1="558.2" y1="472.6" x2="558.2" y2="541.4" stroke="#444" stroke-width="1.6"/>
<line x1="604.4" y1="472.6" x2="604.4" y2="541.4" stroke="#000" stroke-width="1.1"/>
<line x1="640.2" y1="472.6" x2="640.2" y2="513.3" stroke="#000" stroke-width="1"/>
<line x1="629" y1="456.6" x2="629" y2="472.6" stroke="#444" stroke-width="1.6"/>
<line x1="685.3" y1="456.6" x2="685.3" y2="513.3" stroke="#000" stroke-width="1.1"/>
<line x1="730.4" y1="472.6" x2="730.4" y2="541.4" stroke="#000" stroke-width="1.1"/>
<path d="M484.0,432.6 A17.6,17.6 0 0 1 518.1,432.6 L501.0,451.0 Z" fill="#000"/>
<polyline points="484.3,433.6 493.0,437.2 501.0,432.4 509.0,437.2 517.8,433.6" fill="none" stroke="#fff" stroke-width="1.3"/>
<path d="M493.0,437.2 L500.3,450.5 M509.0,437.2 L501.7,450.5" fill="none" stroke="#fff" stroke-width="1.3"/>
<text x="522.8 545.1 567.4 589.7 612 634.3 656.6 678.9 701.2 723.5 745.8" y="433.7" font-family="Liberation Serif, Noto Serif CJK SC, serif" font-weight="500" font-size="20" fill="#000">中山市宇辉电子有限公司</text>
<text x="521.0" y="449.1" font-family="Liberation Serif" font-weight="bold" font-size="11.8" textLength="37.0" lengthAdjust="spacingAndGlyphs">Zhong</text>
<text x="567.4" y="449.1" font-family="Liberation Serif" font-weight="bold" font-size="11.8" textLength="29.2" lengthAdjust="spacingAndGlyphs">Shan</text>
<text x="605.8" y="449.1" font-family="Liberation Serif" font-weight="bold" font-size="11.8" textLength="35.4" lengthAdjust="spacingAndGlyphs">Yuhui</text>
<text x="649.8" y="449.1" font-family="Liberation Serif" font-weight="bold" font-size="11.8" textLength="69.8" lengthAdjust="spacingAndGlyphs">Electronics</text>
<text x="728.0" y="449.1" font-family="Liberation Serif" font-weight="bold" font-size="11.8" textLength="47.6" lengthAdjust="spacingAndGlyphs">CO.,LTD.</text>
<text x="474.7" y="466" font-family="Liberation Sans" font-size="7.9" fill="#000" stroke="#000" stroke-width="0.22" xml:space="preserve">Pro. Mode</text>
<text x="523.4" y="468.4" font-family="Liberation Sans" font-size="13.3" fill="#000" xml:space="preserve">YH-SD6773AW4</text>
<text x="630.8" y="466" font-family="Liberation Sans" font-size="7.7" fill="#000" stroke="#000" stroke-width="0.22" xml:space="preserve">Drawing Name</text>
<text x="710.4 721.2 732 742.8" y="468.4" font-family="Liberation Serif, Noto Serif CJK SC, serif" font-size="10.6" fill="#3a3a3a">侧背光图</text>
<text x="475.6" y="484" font-family="Liberation Sans" font-size="7.9" fill="#000" stroke="#000" stroke-width="0.22" xml:space="preserve">SIZE</text>
<text x="521.7" y="484" font-family="Liberation Sans" font-size="7.8" fill="#000" stroke="#000" stroke-width="0.22" xml:space="preserve">Tolerance</text>
<text x="563" y="483.6" font-family="Liberation Sans" font-size="7.9" fill="#000" stroke="#000" stroke-width="0.22" xml:space="preserve">Draw. BY</text>
<text x="689" y="481.9" font-family="Liberation Sans" font-size="7.9" fill="#000" stroke="#000" stroke-width="0.22" xml:space="preserve">Material</text>
<text x="745" y="482" font-family="Liberation Sans" font-size="7.9" fill="#000" stroke="#000" stroke-width="0.22" xml:space="preserve">NA</text>
<text x="481" y="496.6" font-family="Liberation Sans" font-size="7.6" fill="#000" font-weight="bold" stroke="#000" stroke-width="0.12" xml:space="preserve">L</text>
<text x="485.6" y="497.3" font-family="Liberation Sans" font-size="9.6" fill="#777" xml:space="preserve">&lt;</text>
<text x="492.3" y="496.6" font-family="Liberation Sans" font-size="7.6" fill="#000" font-weight="bold" stroke="#000" stroke-width="0.12" xml:space="preserve">15</text>
<text x="526.7" y="496.6" font-family="Liberation Sans" font-size="7.8" fill="#000" font-weight="bold" stroke="#000" stroke-width="0.12" xml:space="preserve">±0.10</text>
<text x="562.8" y="496.6" font-family="Liberation Sans" font-size="7.9" fill="#000" stroke="#000" stroke-width="0.22" xml:space="preserve">Chec. BY</text>
<text x="691" y="496.3" font-family="Liberation Sans" font-size="7.9" fill="#000" stroke="#000" stroke-width="0.22" xml:space="preserve">Unit</text>
<text x="747" y="495.6" font-family="Liberation Sans" font-size="7.4" fill="#000" font-weight="bold" stroke="#000" stroke-width="0.12" xml:space="preserve">MM</text>
<text x="474.7" y="510.5" font-family="Liberation Sans" font-size="7.6" fill="#000" font-weight="bold" stroke="#000" stroke-width="0.12" xml:space="preserve">15</text>
<text x="483.8" y="510.7" font-family="Liberation Sans" font-size="9.6" fill="#777" xml:space="preserve">≤</text>
<text x="490" y="510.5" font-family="Liberation Sans" font-size="7.6" fill="#000" font-weight="bold" stroke="#000" stroke-width="0.12" xml:space="preserve">L</text>
<text x="494.6" y="511.2" font-family="Liberation Sans" font-size="9.6" fill="#777" xml:space="preserve">&lt;</text>
<text x="501.2" y="510.5" font-family="Liberation Sans" font-size="7.6" fill="#000" font-weight="bold" stroke="#000" stroke-width="0.12" xml:space="preserve">100</text>
<text x="526.7" y="510.5" font-family="Liberation Sans" font-size="7.8" fill="#000" font-weight="bold" stroke="#000" stroke-width="0.12" xml:space="preserve">±0.20</text>
<text x="563" y="510.5" font-family="Liberation Sans" font-size="7.9" fill="#000" stroke="#000" stroke-width="0.22" xml:space="preserve">Appr. BY</text>
<text x="690" y="508.1" font-family="Liberation Sans" font-size="7.9" fill="#000" stroke="#000" stroke-width="0.22" xml:space="preserve">Draw. Size</text>
<g font-family="Liberation Serif" font-size="10.46" fill="#444"><text transform="translate(745.9,509.6) scale(0.661,1)">A</text><text transform="translate(751.1,509.6) scale(0.954,1)">4</text></g>
<text x="471.4" y="522.7" font-family="Liberation Sans" font-size="7.6" fill="#000" font-weight="bold" stroke="#000" stroke-width="0.12" xml:space="preserve">100</text>
<text x="484.3" y="522.9" font-family="Liberation Sans" font-size="9.6" fill="#777" xml:space="preserve">≤</text>
<text x="490.6" y="522.7" font-family="Liberation Sans" font-size="7.6" fill="#000" font-weight="bold" stroke="#000" stroke-width="0.12" xml:space="preserve">L</text>
<text x="495" y="523.4" font-family="Liberation Sans" font-size="9.6" fill="#777" xml:space="preserve">&lt;</text>
<text x="501.4" y="522.7" font-family="Liberation Sans" font-size="7.6" fill="#000" font-weight="bold" stroke="#000" stroke-width="0.12" xml:space="preserve">150</text>
<text x="526.7" y="522.7" font-family="Liberation Sans" font-size="7.8" fill="#000" font-weight="bold" stroke="#000" stroke-width="0.12" xml:space="preserve">±0.25</text>
<text x="561" y="522.3" font-family="Liberation Sans" font-size="6.9" fill="#000" stroke="#000" stroke-width="0.22" xml:space="preserve">Scale</text>
<text x="580" y="533.3" font-family="Liberation Serif" font-size="10.6" fill="#111" stroke="#111" stroke-width="0.15" letter-spacing="1.2" xml:space="preserve">1:1</text>
<text x="612" y="520.3" font-family="Liberation Sans" font-size="6.85" fill="#000" stroke="#000" stroke-width="0.22" xml:space="preserve">Drawing NO.</text>
<text x="733.7" y="522.8" font-family="Liberation Sans" font-size="6.9" fill="#000" stroke="#000" stroke-width="0.22" xml:space="preserve">Version</text>
<g font-family="Liberation Serif" font-size="10.46" fill="#444"><text transform="translate(748.9,533.4) scale(0.661,1)">A</text><text transform="translate(754.1,533.4) scale(0.954,1)">0</text></g>
<text x="472.8" y="537.2" font-family="Liberation Sans" font-size="7.8" fill="#000" stroke="#000" stroke-width="0.22" xml:space="preserve">Proj. Rule(3)</text>
<text x="608.2 620.8" y="537.6" font-family="Liberation Serif, Noto Serif CJK SC, serif" font-weight="500" font-size="12.6" fill="#000">配套</text>
<text x="633.4" y="537.8" font-family="Liberation Sans" font-size="13.1" fill="#000" xml:space="preserve">YH-T93183AMN</text>
<circle cx="532.5" cy="534.5" r="3.9" fill="none" stroke="#000" stroke-width="1"/>
<circle cx="532.5" cy="534.5" r="1.9" fill="none" stroke="#000" stroke-width="0.9"/>
<line x1="526.3" y1="534.5" x2="538.6" y2="534.5" stroke="#000" stroke-width="0.9"/>
<line x1="532.5" y1="528.5" x2="532.5" y2="540.4" stroke="#000" stroke-width="0.9"/>
<path d="M550.6,530.6 L542.2,533.0 Q540.8,534.5 542.2,536.0 L550.6,538.4 Z" fill="none" stroke="#000" stroke-width="0.9"/>
<line x1="540" y1="534.5" x2="552.8" y2="534.5" stroke="#000" stroke-width="0.9"/>
<text x="24.1 36.35 48.6 60.85 73.1 85.35 97.6 109.85 122.1 134.35 146.6 158.85 171.1 183.35" y="561.6" font-family="Liberation Serif, Noto Serif CJK SC, serif" font-weight="500" font-size="11.9" fill="#000">地址：中山市港口镇群富工业区</text>
<g font-family="Liberation Serif" font-size="13.35" fill="#000"><text transform="translate(195.72,561.6) scale(0.881,1)">1</text></g>
<text x="201.9" y="561.6" font-family="Liberation Serif, Noto Serif CJK SC, serif" font-weight="500" font-size="11.9" fill="#000">号</text>
<g font-family="Liberation Serif" font-size="13.35" fill="#000"><text transform="translate(214.92,561.6) scale(0.610,1)">A</text></g>
<text x="220.5 232.75 245" y="561.6" font-family="Liberation Serif, Noto Serif CJK SC, serif" font-weight="500" font-size="11.9" fill="#000">座六楼</text>
<g font-family="Liberation Serif" font-size="13.35" fill="#000"><text x="258.59" y="561.6">.</text></g>
<text x="264.9 277.15 289.4" y="561.6" font-family="Liberation Serif, Noto Serif CJK SC, serif" font-weight="500" font-size="11.9" fill="#000">电话：</text>
<g font-family="Liberation Serif" font-size="13.35" fill="#000"><text transform="translate(301.92,561.6) scale(0.883,1)">0</text><text transform="translate(308.06,561.6) scale(0.883,1)">7</text><text transform="translate(314.2,561.6) scale(0.883,1)">6</text><text transform="translate(320.34,561.6) scale(0.883,1)">0</text><text x="327.21" y="561.6">-</text><text transform="translate(332.62,561.6) scale(0.883,1)">2</text><text transform="translate(338.76,561.6) scale(0.883,1)">8</text><text transform="translate(344.9,561.6) scale(0.883,1)">3</text><text transform="translate(351.04,561.6) scale(0.883,1)">1</text><text transform="translate(357.18,561.6) scale(0.883,1)">0</text><text transform="translate(363.32,561.6) scale(0.883,1)">2</text><text transform="translate(369.46,561.6) scale(0.883,1)">8</text><text transform="translate(375.6,561.6) scale(0.883,1)">7</text></g>
<text x="383.1 395.35 407.6" y="561.6" font-family="Liberation Serif, Noto Serif CJK SC, serif" font-weight="500" font-size="11.9" fill="#000">传真：</text>
<g font-family="Liberation Serif" font-size="13.35" fill="#000"><text transform="translate(418.72,561.6) scale(0.883,1)">0</text><text transform="translate(424.86,561.6) scale(0.883,1)">7</text><text transform="translate(431,561.6) scale(0.883,1)">6</text><text transform="translate(437.14,561.6) scale(0.883,1)">0</text><text x="444.01" y="561.6">-</text><text transform="translate(449.42,561.6) scale(0.883,1)">8</text><text transform="translate(455.56,561.6) scale(0.883,1)">8</text><text transform="translate(461.7,561.6) scale(0.883,1)">4</text><text transform="translate(467.84,561.6) scale(0.883,1)">1</text><text transform="translate(473.98,561.6) scale(0.883,1)">9</text><text transform="translate(480.12,561.6) scale(0.883,1)">5</text><text transform="translate(486.26,561.6) scale(0.883,1)">9</text><text transform="translate(492.4,561.6) scale(0.883,1)">6</text></g>
<g font-family="Liberation Serif" font-size="13.35" fill="#000"><text transform="translate(505.72,561.6) scale(0.611,1)">H</text><text x="512.96" y="561.6">t</text><text x="519.1" y="561.6">t</text><text transform="translate(524.14,561.6) scale(0.883,1)">p</text><text x="531.38" y="561.6">:</text><text transform="translate(536.42,561.6) scale(0.611,1)">w</text><text transform="translate(542.56,561.6) scale(0.611,1)">w</text><text transform="translate(548.7,561.6) scale(0.611,1)">w</text><text x="556.12" y="561.6">.</text><text transform="translate(560.98,561.6) scale(0.995,1)">z</text><text x="567.47" y="561.6">s</text><text x="573.99" y="561.6">-</text><text transform="translate(579.4,561.6) scale(0.611,1)">w</text><text transform="translate(585.54,561.6) scale(0.883,1)">b</text><text x="592.96" y="561.6">.</text><text transform="translate(597.82,561.6) scale(0.995,1)">c</text><text transform="translate(603.96,561.6) scale(0.883,1)">o</text><text transform="translate(610.1,561.6) scale(0.568,1)">m</text></g>
<g font-family="Liberation Serif" font-size="13.35" fill="#000"><text transform="translate(627.52,561.6) scale(0.723,1)">E</text><text x="634.39" y="561.6">-</text><text transform="translate(639.8,561.6) scale(0.568,1)">m</text><text transform="translate(645.94,561.6) scale(0.995,1)">a</text><text x="653.18" y="561.6">i</text><text x="659.32" y="561.6">l</text><text x="665.46" y="561.6">:</text><text x="670.85" y="561.6">J</text><text transform="translate(676.64,561.6) scale(0.662,1)">R</text><text transform="translate(682.78,561.6) scale(0.723,1)">Z</text><text transform="translate(688.92,561.6) scale(0.662,1)">B</text><text transform="translate(695.06,561.6) scale(0.883,1)">1</text><text transform="translate(701.2,561.6) scale(0.883,1)">4</text><text transform="translate(707.34,561.6) scale(0.883,1)">2</text><text transform="translate(713.48,561.6) scale(0.883,1)">0</text><text transform="translate(719.62,561.6) scale(0.479,1)">@</text><text transform="translate(725.76,561.6) scale(0.883,1)">1</text><text transform="translate(731.9,561.6) scale(0.883,1)">6</text><text transform="translate(738.04,561.6) scale(0.883,1)">3</text><text x="745.46" y="561.6">.</text><text transform="translate(750.32,561.6) scale(0.995,1)">c</text><text transform="translate(756.46,561.6) scale(0.883,1)">o</text><text transform="translate(762.6,561.6) scale(0.568,1)">m</text></g>
</svg>
</body></html>
